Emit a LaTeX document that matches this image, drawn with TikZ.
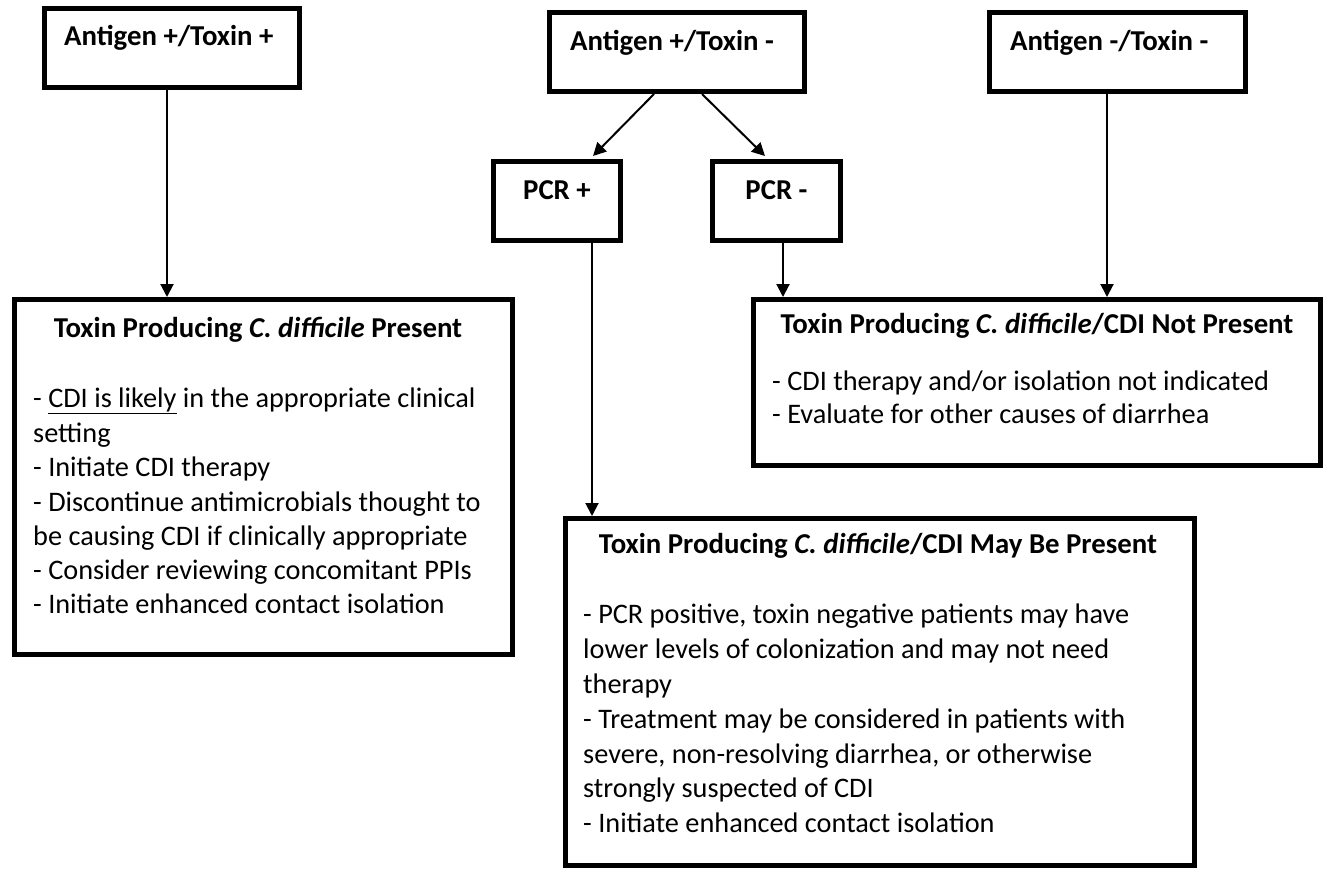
\documentclass[tikz,border=0pt]{standalone}
\usepackage{fontspec}
\setmainfont{Carlito}
\usetikzlibrary{arrows.meta}
\tikzset{
  box/.style={draw, line width=5pt, rectangle, inner sep=0pt},
  arr/.style={line width=2pt, -{Triangle[width=13pt,length=13pt]}},
  ttl/.style={font=\fontsize{28.8}{34}\selectfont\bfseries, anchor=base, inner sep=0pt},
  ttlw/.style={font=\fontsize{28.8}{34}\selectfont\bfseries, anchor=base west, inner sep=0pt},
  ln/.style={font=\fontsize{28.3}{34}\selectfont, anchor=base west, inner sep=0pt},
}
\begin{document}
\begin{tikzpicture}[x=1pt,y=-1pt]
\useasboundingbox (0,0) rectangle (1330,871);
% boxes
\node[box, minimum width=255, minimum height=79] (ag1) at (172,48) {};
\node[box, minimum width=255, minimum height=79] (ag2) at (677,52) {};
\node[box, minimum width=256, minimum height=79] (ag3) at (1117.5,52) {};
\node[box, minimum width=127, minimum height=79] (pcrp) at (557,201) {};
\node[box, minimum width=128, minimum height=79] (pcrn) at (776.5,201) {};
\node[box, minimum width=498, minimum height=355] (pres) at (263.5,477) {};
\node[box, minimum width=567, minimum height=166] (notp) at (1037,382.5) {};
\node[box, minimum width=629, minimum height=347] (may) at (880,692) {};
% box labels
\node[ttlw] (ag1t) at (64,45) {Antigen +/Toxin +};
\node[ttlw] (ag2t) at (570,50) {Antigen +/Toxin -};
\node[ttlw] (ag3t) at (1010,50) {Antigen -/Toxin -};
\node[ttl] (pcrpt) at (557,199) {PCR +};
\node[ttl] (pcrnt) at (776.5,199) {PCR -};
% present
\node[ttl] (prest) at (258,337) {Toxin Producing \textit{C. difficile} Present};
\node[ln] (p1) at (33,407) {- \underline{CDI is likely} in the appropriate clinical};
\node[ln] (p2) at (33,442) {setting};
\node[ln] (p3) at (33,476) {- Initiate CDI therapy};
\node[ln] (p4) at (33,511) {- Discontinue antimicrobials thought to};
\node[ln] (p5) at (33,545) {be causing CDI if clinically appropriate};
\node[ln] (p6) at (33,579) {- Consider reviewing concomitant PPIs};
\node[ln] (p7) at (33,613) {- Initiate enhanced contact isolation};
% not present
\node[ttl] (notpt) at (1037,333) {Toxin Producing \textit{C. difficile}/CDI Not Present};
\node[ln] (n1) at (772,390) {- CDI therapy and/or isolation not indicated};
\node[ln] (n2) at (772,423) {- Evaluate for other causes of diarrhea};
% may be present
\node[ttl] (mayt) at (878,553) {Toxin Producing \textit{C. difficile}/CDI May Be Present};
\node[ln] (m1) at (583,623) {- PCR positive, toxin negative patients may have};
\node[ln] (m2) at (583,658) {lower levels of colonization and may not need};
\node[ln] (m3) at (583,693) {therapy};
\node[ln] (m4) at (583,728) {- Treatment may be considered in patients with};
\node[ln] (m5) at (583,763) {severe, non-resolving diarrhea, or otherwise};
\node[ln] (m6) at (583,797) {strongly suspected of CDI};
\node[ln] (m7) at (583,832) {- Initiate enhanced contact isolation};
% connector helpers
\coordinate (x1) at (167,0);
\coordinate (x2) at (654,0);
\coordinate (x3) at (702,0);
\coordinate (x4) at (592,0);
\coordinate (x5) at (783,0);
\coordinate (x6) at (1107,0);
\coordinate (tp) at (593,156);
\coordinate (tn) at (765,156);
% connectors
\draw[arr] (ag1.south -| x1) -- (pres.north -| x1);
\draw[arr] (ag2.south -| x2) -- (tp);
\draw[arr] (ag2.south -| x3) -- (tn);
\draw[arr] (pcrp.south -| x4) -- (may.north -| x4);
\draw[arr] (pcrn.south -| x5) -- (notp.north -| x5);
\draw[arr] (ag3.south -| x6) -- (notp.north -| x6);
\end{tikzpicture}
\end{document}
